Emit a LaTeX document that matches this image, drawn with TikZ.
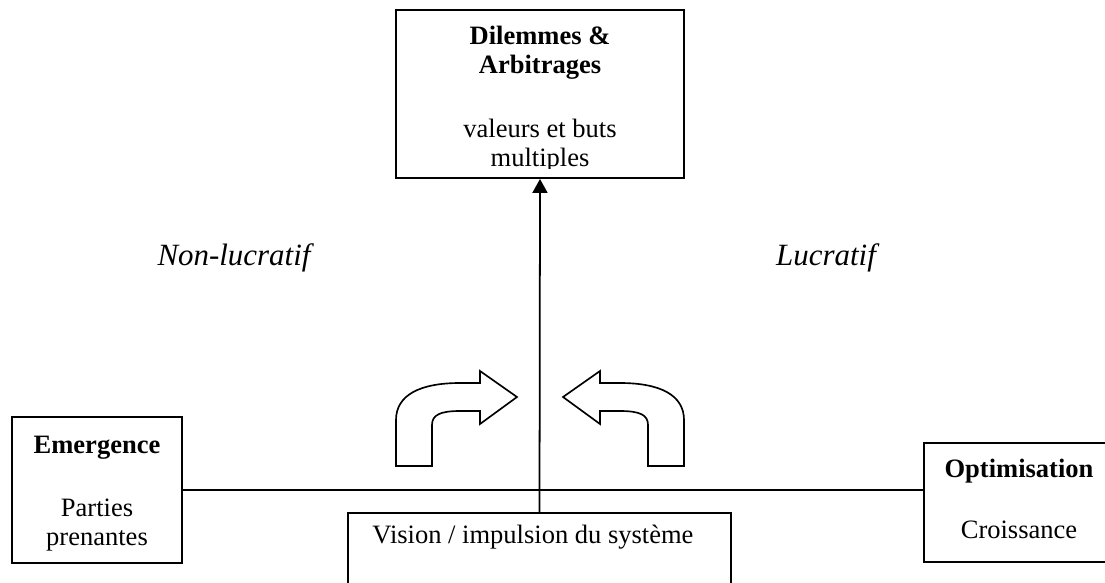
\documentclass[tikz,border=0pt]{standalone}
\usepackage{fontspec}
\setmainfont{Liberation Serif}
\usetikzlibrary{arrows.meta}
\newdimen\pxu \pxu=0.4525pt
\tikzset{
  box/.style={draw, line width=0.9pt, inner sep=0pt},
  txt/.style={inner sep=0pt, anchor=base, font=\fontsize{12}{14}\selectfont},
  btxt/.style={txt, font=\fontsize{12}{14}\selectfont\bfseries},
  itxt/.style={inner sep=0pt, anchor=base, font=\fontsize{14}{16}\selectfont\itshape},
  conn/.style={line width=0.8pt},
  bentarrow/.style={draw, line width=0.75pt, line join=miter}
}
\begin{document}
\begin{tikzpicture}[x=0.4525pt, y=-0.4525pt]
\useasboundingbox (0,0) rectangle (1105,582);
\clip (0,0) rectangle (1105,582);
% boxes
\node[box, minimum width=288\pxu, minimum height=168\pxu] (top) at (540,94) {};
\node[box, minimum width=170\pxu, minimum height=146\pxu] (left) at (97,490) {};
\node[box, minimum width=190\pxu, minimum height=119\pxu] (right) at (1019,502.5) {};
\node[box, minimum width=383\pxu, minimum height=100\pxu] (bottom) at (539.5,563) {};
% texts
\node[btxt] (t1) at (540,45) {Dilemmes \&};
\node[btxt] (t2) at (540,74) {Arbitrages};
\begin{scope}
\clip (400,14) rectangle (680,168);
\node[txt] (t3) at (540,137) {valeurs et buts};
\node[txt] (t4) at (540,166) {multiples};
\end{scope}
\node[btxt] (l1) at (97,453) {Emergence};
\node[txt] (l2) at (97,516) {Parties};
\node[txt] (l3) at (97,545) {prenantes};
\node[btxt] (r1) at (1019,477) {Optimisation};
\node[txt] (r2) at (1019,538) {Croissance};
\node[txt, anchor=base west] (b1) at (372,543) {Vision / impulsion du système};
\node[itxt] (nl) at (234,265) {Non-lucratif};
\node[itxt] (lu) at (826,265) {Lucratif};
% connectors
\draw[conn] (left.east) -- (left.east -| right.west);
\draw[conn, -{Triangle[length=6.3pt, width=6.8pt]}] (bottom.north) -- (top.south);
% bent arrows
\path[bentarrow] (396,466) -- (396,420) .. controls (396,395) and (420,383) .. (460,383)
  -- (480,383) -- (480,371) -- (517,397) -- (480,424) -- (480,411) -- (460,411)
  .. controls (440,411) and (432,415) .. (432,425) -- (432,466) -- cycle;
\begin{scope}[shift={(1080,0)}, xscale=-1]
\path[bentarrow] (396,466) -- (396,420) .. controls (396,395) and (420,383) .. (460,383)
  -- (480,383) -- (480,371) -- (517,397) -- (480,424) -- (480,411) -- (460,411)
  .. controls (440,411) and (432,415) .. (432,425) -- (432,466) -- cycle;
\end{scope}
\end{tikzpicture}
\end{document}
